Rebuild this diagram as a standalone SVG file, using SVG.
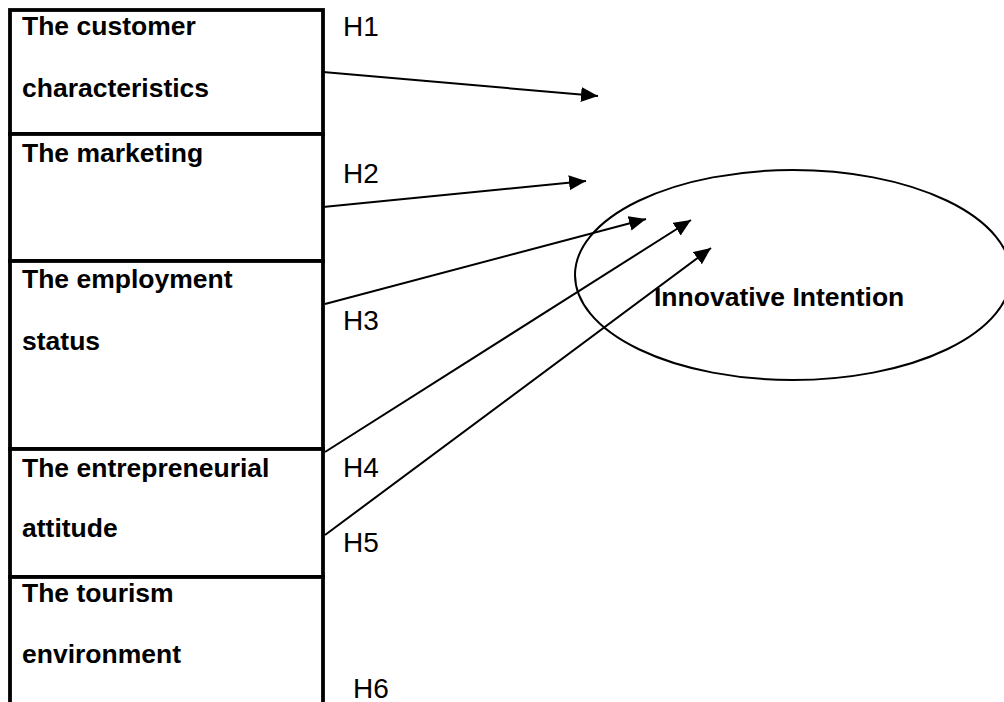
<svg xmlns="http://www.w3.org/2000/svg" width="1004" height="702" viewBox="0 0 1004 702">
<style>
.box{fill:#fff;stroke:#000;stroke-width:3.8}
.lbl{font-family:"Liberation Sans",Arial,sans-serif;font-weight:bold;font-size:26.5px;fill:#000}
.h{font-family:"Liberation Sans",Arial,sans-serif;font-size:28px;fill:#000}
.conn{stroke:#000;stroke-width:2;fill:none}
.ell{fill:none;stroke:#000;stroke-width:2}
</style>
<defs>
<marker id="ah" markerUnits="userSpaceOnUse" markerWidth="19" markerHeight="16" refX="17" refY="7.5" orient="auto">
<path d="M0,0 L17,7.5 L0,15 z" fill="#000"/>
</marker>
</defs>
<rect width="1004" height="702" fill="#fff"/>
<g id="node-customer">
<rect class="box" x="10" y="10" width="313" height="124"/>
<text class="lbl" x="22" y="35">The customer</text>
<text class="lbl" x="22" y="97">characteristics</text>
</g>
<g id="node-marketing">
<rect class="box" x="10" y="134" width="313" height="127"/>
<text class="lbl" x="22" y="162">The marketing</text>
</g>
<g id="node-employment">
<rect class="box" x="10" y="261" width="313" height="188"/>
<text class="lbl" x="22" y="288">The employment</text>
<text class="lbl" x="22" y="350">status</text>
</g>
<g id="node-entrepreneurial">
<rect class="box" x="10" y="449" width="313" height="128"/>
<text class="lbl" x="22" y="477">The entrepreneurial</text>
<text class="lbl" x="22" y="537">attitude</text>
</g>
<g id="node-tourism">
<rect class="box" x="10" y="577" width="313" height="140"/>
<text class="lbl" x="22" y="602">The tourism</text>
<text class="lbl" x="22" y="663">environment</text>
</g>
<g id="node-innovative">
<ellipse class="ell" cx="793" cy="275" rx="218" ry="105"/>
<text class="lbl" x="654" y="306">Innovative Intention</text>
</g>
<g id="connectors">
<line class="conn" x1="323" y1="72" x2="598" y2="96" marker-end="url(#ah)"/>
<line class="conn" x1="323" y1="207" x2="586" y2="181" marker-end="url(#ah)"/>
<line class="conn" x1="325" y1="304" x2="646" y2="219" marker-end="url(#ah)"/>
<line class="conn" x1="325" y1="452" x2="691" y2="220" marker-end="url(#ah)"/>
<line class="conn" x1="325" y1="535" x2="711" y2="248" marker-end="url(#ah)"/>
</g>
<g id="labels">
<text class="h" x="343" y="36">H1</text>
<text class="h" x="343" y="183">H2</text>
<text class="h" x="343" y="330">H3</text>
<text class="h" x="343" y="477">H4</text>
<text class="h" x="343" y="552">H5</text>
<text class="h" x="353" y="698">H6</text>
</g>
</svg>
